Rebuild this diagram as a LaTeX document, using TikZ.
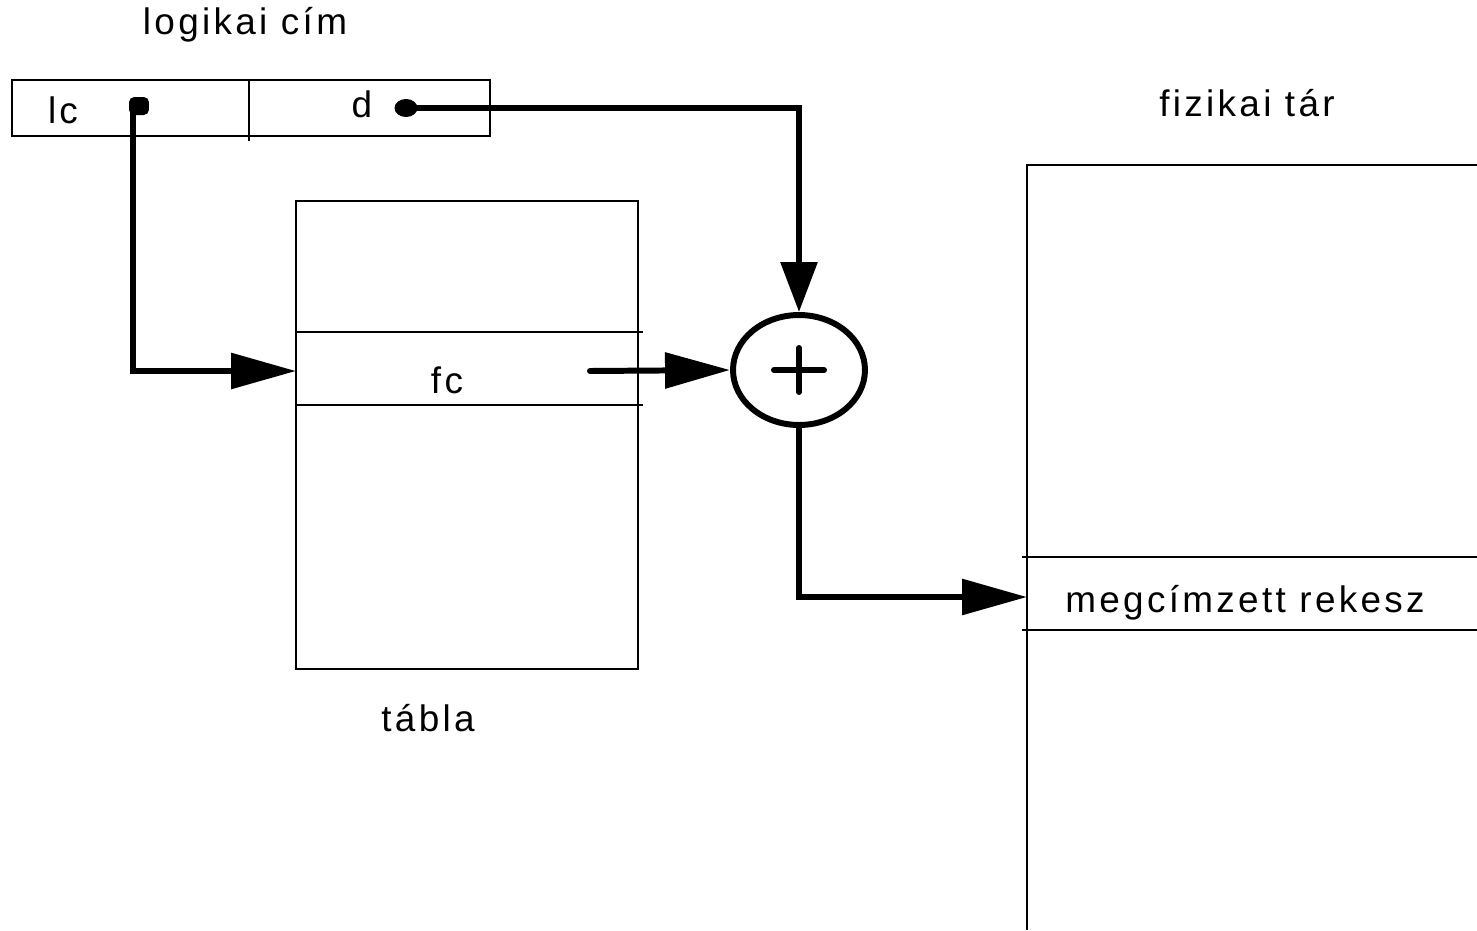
\documentclass[tikz,border=0pt]{standalone}
\usepackage{fontspec}
\setmainfont{Liberation Sans}[LetterSpace=9]
\usetikzlibrary{arrows.meta,shapes.geometric}
\tikzset{
  thinline/.style={line width=1.5pt},
  thickline/.style={line width=3.4pt},
  bigtip/.style={-{Triangle[length=1.3cm,width=0.7cm]}},
  toptip/.style={-{Triangle[length=1.0cm,width=0.72cm]}},
  lbl/.style={font=\fontsize{21}{25}\selectfont, inner sep=0pt},
  dotsq/.style={fill, rounded corners=3pt, minimum width=0.4cm, minimum height=0.36cm, inner sep=0pt},
  dotel/.style={fill, ellipse, minimum width=0.46cm, minimum height=0.36cm, inner sep=0pt},
}
\begin{document}
\begin{tikzpicture}[x=0.02cm,y=-0.02cm]
\useasboundingbox (0,0) rectangle (1477,930);
% logical address box
\draw[thinline] (12,80) rectangle (490,136);
\draw[thinline] (249,80) -- (249,141);
\node[lbl] (lc) at (63,110) {lc};
\node[lbl] (d) at (362,104) {d};
\node[dotsq] (lcdot) at (139,106) {};
\node[dotel] (ddot) at (406,108) {};
\node[lbl] (logikai) at (245,25) {logikai cím};
% table
\draw[thinline] (296,201) rectangle (638,669);
\draw[thinline] (296,332) -- (643,332);
\draw[thinline] (296,405) -- (643,405);
\coordinate (rowleft) at (296,371);
\node[lbl] (fc) at (447,380) {fc};
\coordinate (fcstart) at (590,371);
\node[lbl] (tabla) at (428,718) {tábla};
% adder
\node[draw, ellipse, thickline, minimum width=2.64cm, minimum height=2.2cm, inner sep=0pt] (plus) at (799,370) {};
\draw[thickline, line cap=round] (774,370) -- (824,370);
\draw[thickline, line cap=round] (799,348) -- (799,392);
% physical store
\draw[thinline] (1477,165) -- (1027,165) -- (1027,930);
\draw[thinline] (1022,557) -- (1477,557);
\draw[thinline] (1022,630) -- (1477,630);
\coordinate (rekeszleft) at (1027,597);
\node[lbl] (rekesz) at (1245,603) {megcímzett rekesz};
\node[lbl] (fizikai) at (1247,103) {fizikai tár};
% connectors
\draw[thickline, bigtip] ([xshift=-0.12cm]lcdot.center) |- (rowleft);
\draw[thickline, toptip] (ddot.center) -| (plus.north);
\draw[thickline, bigtip, line cap=round] (fcstart) -- (plus.west);
\draw[thickline, bigtip] (plus.south) |- (rekeszleft);
\end{tikzpicture}
\end{document}
